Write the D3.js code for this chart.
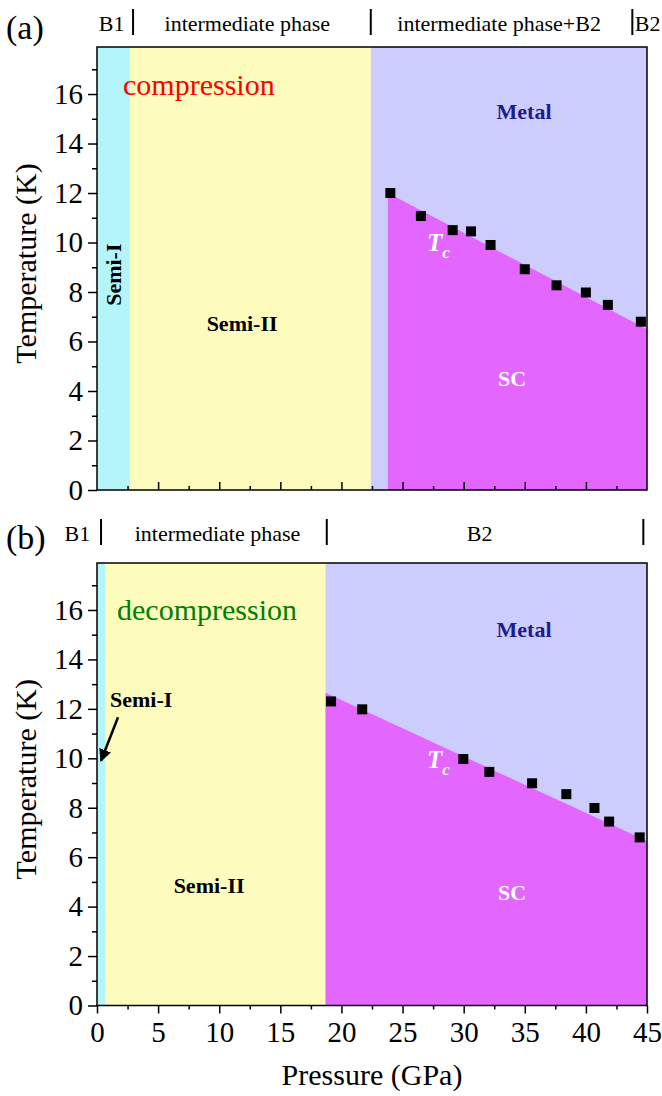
<!DOCTYPE html>
<html><head><meta charset="utf-8">
<script src="https://cdn.jsdelivr.net/npm/d3@7"></script>
<style>
body{margin:0;background:#fff}
svg{display:block}
</style>
</head><body>
<svg id="chart" width="662" height="1096"></svg>
<script>
// ---------------- data ----------------
const pressureTicks = [0, 5, 10, 15, 20, 25, 30, 35, 40, 45];
const pressureMinorTicks = [2.5, 7.5, 12.5, 17.5, 22.5, 27.5, 32.5, 37.5, 42.5];
const tempTicks = [0, 2, 4, 6, 8, 10, 12, 14, 16];
const tempMinorTicks = [1, 3, 5, 7, 9, 11, 13, 15, 17];

// (a) compression
const compPressure = [24.0, 26.5, 29.1, 30.6, 32.2, 35.0, 37.6, 40.0, 41.8, 44.5];
const compTc       = [12.0, 11.07, 10.5, 10.45, 9.9, 8.92, 8.27, 7.98, 7.48, 6.8];
const compPhaseBounds = [0, 2.7, 22.4, 45];        // Semi-I | Semi-II | Metal
const compScStart = 23.8;                           // SC region left edge (GPa)
const compTcLineP = [23.8, 45];
const compTcLineT = [12.0, 6.5];
const compHeaderLabels = ["B1", "intermediate phase", "intermediate phase+B2", "B2"];
const compHeaderBars = [2.95, 22.4, 43.8];

// (b) decompression
const decPressure = [19.15, 21.7, 29.97, 32.1, 35.6, 38.4, 40.7, 41.9, 44.4];
const decTc       = [12.3, 11.98, 9.97, 9.45, 8.99, 8.55, 7.99, 7.44, 6.8];
const decPhaseBounds = [0, 0.7, 18.7, 45];
const decScStart = 18.7;
const decTcLineP = [18.7, 45];
const decTcLineT = [12.65, 6.65];
const decHeaderLabels = ["B1", "intermediate phase", "B2"];
const decHeaderBars = [0.33, 18.8, 44.7];

// ---------------- layout / style ----------------
const FONT = '"Liberation Serif", "Times New Roman", Times, serif';
const svg = d3.select("#chart");
const left = 97, right = 647;
const regionColors = ["#b4f5fa", "#fefcbc", "#ccccfd"];
const scColor = "#e366ff";
const yMax = 17.9;

const x = d3.scaleLinear().domain([0, 45]).range([left, right]);

function drawPanel(o) {
  const top = o.top, bottom = o.bottom;
  const y = d3.scaleLinear().domain([0, yMax]).range([bottom, top]);
  const g = svg.append("g");

  const b = o.bounds;
  for (let i = 0; i < b.length - 1; i++) {
    g.append("rect")
      .attr("x", x(b[i])).attr("y", y(yMax))
      .attr("width", x(b[i + 1]) - x(b[i]))
      .attr("height", y(0) - y(yMax))
      .attr("fill", regionColors[i]);
  }
  const poly = [[o.scStart, 0], [o.lineP[0], o.lineT[0]], [o.lineP[1], o.lineT[1]], [45, 0]];
  g.append("path")
    .attr("d", d3.line().x(d => x(d[0])).y(d => y(d[1]))(poly) + "Z")
    .attr("fill", scColor);

  const yMinor = d3.axisLeft(y).tickValues(tempMinorTicks).tickSize(5).tickFormat("");
  const yMajor = d3.axisLeft(y).tickValues(tempTicks).tickSize(9).tickPadding(5);
  [yMinor, yMajor].forEach(ax => {
    const a = g.append("g").attr("transform", `translate(${left},0)`).call(ax);
    a.select(".domain").remove();
    a.selectAll("line").attr("stroke", "#000").attr("stroke-width", 1.5);
    a.selectAll("text").attr("font-size", 29).attr("fill", "#000");
  });

  if (o.xLabels) {
    const xMinor = d3.axisBottom(x).tickValues(pressureMinorTicks).tickSize(4).tickFormat("");
    const xMajor = d3.axisBottom(x).tickValues(pressureTicks).tickSize(8).tickPadding(8);
    [xMinor, xMajor].forEach(ax => {
      const a = g.append("g").attr("transform", `translate(0,${bottom})`).call(ax);
      a.select(".domain").remove();
      a.selectAll("line").attr("stroke", "#000").attr("stroke-width", 1.5);
      a.selectAll("text").attr("font-size", 29).attr("fill", "#000");
    });
  } else {
    const xMinor = d3.axisBottom(x).tickValues(pressureMinorTicks).tickSize(-4).tickFormat("");
    const xMajor = d3.axisBottom(x).tickValues(pressureTicks.slice(1, -1)).tickSize(-8).tickFormat("");
    [xMinor, xMajor].forEach(ax => {
      const a = g.append("g").attr("transform", `translate(0,${bottom})`).call(ax);
      a.select(".domain").remove();
      a.selectAll("line").attr("stroke", "#000").attr("stroke-width", 1.5);
    });
  }

  g.append("rect")
    .attr("x", left).attr("y", top)
    .attr("width", right - left).attr("height", bottom - top)
    .attr("fill", "none").attr("stroke", "#000").attr("stroke-width", 1.5);

  g.selectAll("rect.pt").data(o.P.map((p, i) => [p, o.T[i]])).enter()
    .append("rect").attr("class", "pt")
    .attr("x", d => x(d[0]) - 5).attr("y", d => y(d[1]) - 5)
    .attr("width", 10).attr("height", 10).attr("fill", "#000");

  g.append("text")
    .attr("transform", `translate(36,${(top + bottom) / 2 - 5}) rotate(-90)`)
    .attr("text-anchor", "middle")
    .attr("font-size", 30)
    .text("Temperature (K)");

  g.append("text").attr("x", 6).attr("y", o.headerBase + 8)
    .attr("font-size", 34).text(o.panelLabel);
  o.headerLabels.forEach((t, i) => {
    g.append("text").attr("x", x(o.headerPos[i])).attr("y", o.headerBase)
      .attr("text-anchor", "middle").attr("font-size", 22).text(t);
  });
  o.headerBars.forEach(p => {
    g.append("line").attr("x1", x(p)).attr("x2", x(p))
      .attr("y1", o.headerBase - 22).attr("y2", o.headerBase + 4)
      .attr("stroke", "#000").attr("stroke-width", 2);
  });

  const bold = (t, p, T, opts = {}) => {
    const el = g.append("text").attr("font-weight", "bold").attr("font-size", opts.size || 22)
      .attr("fill", opts.fill || "#000")
      .attr("text-anchor", opts.anchor || "middle").text(t);
    if (opts.rotate) {
      el.attr("transform", `translate(${x(p)},${y(T)}) rotate(-90)`)
        .attr("dominant-baseline", "central");
    } else {
      el.attr("x", x(p)).attr("y", y(T));
    }
    return el;
  };
  o.labels(bold);

  const tc = g.append("text").attr("x", x(o.tcPos[0])).attr("y", y(o.tcPos[1]))
    .attr("fill", "#fff").attr("font-weight", "bold").attr("font-style", "italic")
    .attr("font-size", 25);
  tc.append("tspan").text("T");
  tc.append("tspan").attr("dy", 7).attr("font-size", 17).text("c");

  g.append("text").attr("x", x(o.procPos[0])).attr("y", y(o.procPos[1]))
    .attr("font-size", 30).attr("fill", o.procColor).text(o.procText);

  return y;
}

drawPanel({
  top: 47, bottom: 490,
  bounds: compPhaseBounds, scStart: compScStart, lineP: compTcLineP, lineT: compTcLineT,
  P: compPressure, T: compTc, xLabels: false,
  panelLabel: "(a)", headerBase: 31,
  headerLabels: compHeaderLabels, headerPos: [1.2, 12.3, 32.9, 45.05], headerBars: compHeaderBars,
  tcPos: [27.0, 9.65], procPos: [2.13, 15.95], procColor: "#ff0000", procText: "compression",
  labels: (bold) => {
    bold("Semi-I", 1.31, 8.7, {rotate: true});
    bold("Semi-II", 11.87, 6.44);
    bold("Metal", 34.94, 14.98, {fill: "#1c1c8c"});
    bold("SC", 33.96, 4.21, {fill: "#fff"});
  }
});

const yb = drawPanel({
  top: 563, bottom: 1005.5,
  bounds: decPhaseBounds, scStart: decScStart, lineP: decTcLineP, lineT: decTcLineT,
  P: decPressure, T: decTc, xLabels: true,
  panelLabel: "(b)", headerBase: 541,
  headerLabels: decHeaderLabels, headerPos: [-1.6, 9.86, 31.3], headerBars: decHeaderBars,
  tcPos: [27.0, 9.6], procPos: [1.64, 15.58], procColor: "#008000", procText: "decompression",
  labels: (bold) => {
    bold("Semi-I", 1.06, 12.06, {anchor: "start"});
    bold("Semi-II", 9.17, 4.55);
    bold("Metal", 34.94, 14.9, {fill: "#1c1c8c"});
    bold("SC", 33.96, 4.26, {fill: "#fff"});
  }
});

svg.append("defs").append("marker")
  .attr("id", "ah").attr("viewBox", "0 0 10 10").attr("refX", 9).attr("refY", 5)
  .attr("markerWidth", 5).attr("markerHeight", 5).attr("orient", "auto")
  .append("path").attr("d", "M0,0 L10,5 L0,10 Z").attr("fill", "#000");
svg.append("line")
  .attr("x1", x(1.72)).attr("y1", yb(11.66))
  .attr("x2", x(0.33)).attr("y2", yb(9.9))
  .attr("stroke", "#000").attr("stroke-width", 2.5)
  .attr("marker-end", "url(#ah)");

svg.append("text").attr("x", (left + right) / 2).attr("y", 1085)
  .attr("text-anchor", "middle").attr("font-size", 30).text("Pressure (GPa)");

// serif font on every text element
svg.selectAll("text").style("font-family", FONT);
</script>
</body></html>
